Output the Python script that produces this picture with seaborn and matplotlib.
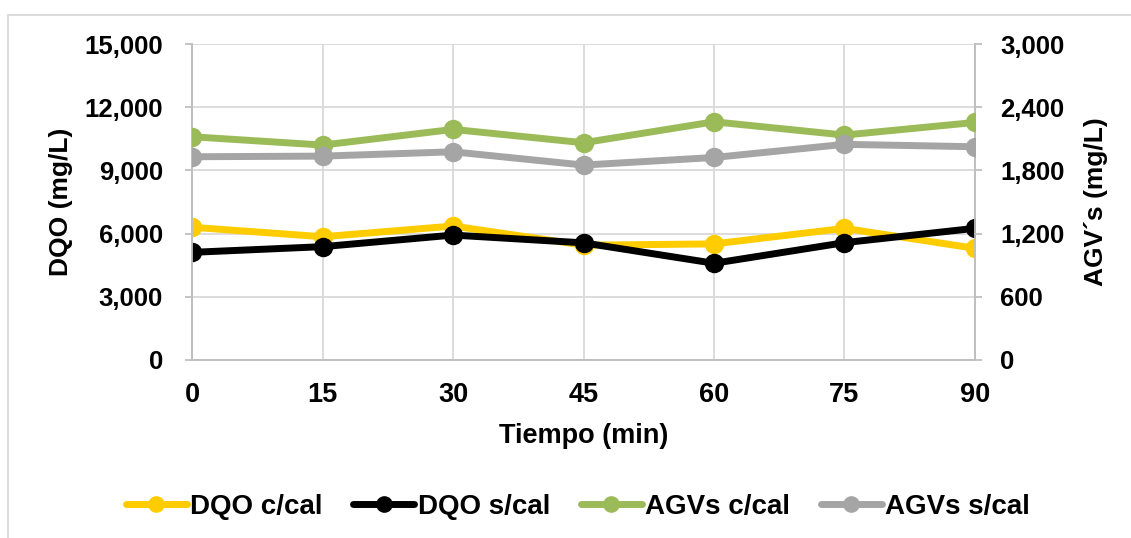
import matplotlib
matplotlib.use("Agg")
import matplotlib.pyplot as plt
from matplotlib.lines import Line2D
from matplotlib.patches import Rectangle
import matplotlib.ticker as mticker
import pandas as pd
import seaborn as sns

# Sampling times (min)
tiempo = [0, 15, 30, 45, 60, 75, 90]

# DQO series (mg/L), left axis
dqo_ccal = [6300, 5850, 6360, 5450, 5510, 6250, 5300]
dqo_scal = [5110, 5380, 5930, 5560, 4590, 5570, 6250]

# AGVs series (mg/L), right axis
agv_ccal = [2120, 2041, 2190, 2063, 2262, 2136, 2256]
agv_scal = [1930, 1936, 1977, 1851, 1923, 2048, 2025]

labels = ["DQO c/cal", "DQO s/cal", "AGVs c/cal", "AGVs s/cal"]
colors = ["#FFCC00", "#000000", "#9BBB59", "#A5A5A5"]

sns.set_theme(style="white")
plt.rcParams["font.family"] = ["Liberation Sans", "DejaVu Sans"]
plt.rcParams["font.weight"] = "bold"
plt.rcParams["text.color"] = "black"
plt.rcParams["axes.labelcolor"] = "black"
plt.rcParams["xtick.color"] = "black"
plt.rcParams["ytick.color"] = "black"

fig = plt.figure(figsize=(11.31, 5.38), dpi=100)
ax = fig.add_axes([0.170, 0.331, 0.692, 0.587])
ax2 = ax.twinx()

df_left = pd.DataFrame({"t": tiempo * 2,
                        "v": dqo_ccal + dqo_scal,
                        "s": [labels[0]] * 7 + [labels[1]] * 7})
df_right = pd.DataFrame({"t": tiempo * 2,
                         "v": agv_ccal + agv_scal,
                         "s": [labels[2]] * 7 + [labels[3]] * 7})

lw, ms = 5.0, 14
for lab, col in zip(labels[:2], colors[:2]):
    sns.lineplot(data=df_left[df_left.s == lab], x="t", y="v", ax=ax,
                 color=col, linewidth=lw, marker="o", markersize=ms,
                 markeredgewidth=0, legend=False, zorder=3)
for lab, col in zip(labels[2:], colors[2:]):
    sns.lineplot(data=df_right[df_right.s == lab], x="t", y="v", ax=ax2,
                 color=col, linewidth=lw, marker="o", markersize=ms,
                 markeredgewidth=0, legend=False, zorder=3)

grid_c = "#D9D9D9"
spine_c = "#BFBFBF"

ax.set_xlim(0, 90)
ax.set_ylim(0, 15000)
ax2.set_ylim(0, 3000)
ax.set_xticks(tiempo)
ax.set_yticks([0, 3000, 6000, 9000, 12000, 15000])
ax2.set_yticks([0, 600, 1200, 1800, 2400, 3000])
fmt = mticker.FuncFormatter(lambda v, p: f"{int(v):,}")
ax.yaxis.set_major_formatter(fmt)
ax2.yaxis.set_major_formatter(fmt)

ax.grid(True, axis="both", color=grid_c, linewidth=1.3)
ax.set_axisbelow(True)
ax2.grid(False)

for a in (ax, ax2):
    a.spines["top"].set_visible(False)
    for side in ("left", "right", "bottom"):
        a.spines[side].set_color(spine_c)
        a.spines[side].set_linewidth(1.3)
    a.tick_params(axis="both", which="major", length=5, width=1.3,
                  color=spine_c, direction="out", labelcolor="black")

ax.tick_params(axis="y", labelsize=18.5, pad=16)
ax2.tick_params(axis="y", labelsize=18.5, pad=13)
ax.tick_params(axis="x", labelsize=19.5, pad=11)
for t in ax.get_xticklabels() + ax.get_yticklabels() + ax2.get_yticklabels():
    t.set_fontweight("bold")

ax.set_xlabel("Tiempo (min)", fontsize=19.5, fontweight="bold",
              labelpad=11, color="black")
ax.set_ylabel("DQO (mg/L)", fontsize=19, fontweight="bold", labelpad=8,
              color="black")
ax2.set_ylabel("AGV´s (mg/L)", fontsize=19, fontweight="bold", labelpad=14,
               color="black", rotation=90)

handles = [Line2D([0], [0], color=c, linewidth=lw, marker="o",
                  markersize=12, markeredgewidth=0) for c in colors]
fig.legend(handles, labels, loc="center", bbox_to_anchor=(0.511, 0.058),
           ncol=4, frameon=False, handlelength=2.2, handletextpad=0.12,
           columnspacing=1.1,
           prop={"weight": "bold", "size": 20})

# chart area frame
fig.patches.append(Rectangle((8 / 1131, -0.02), 1.1, 0.992,
                             transform=fig.transFigure, fill=False,
                             edgecolor="#D9D9D9", linewidth=1.3))

fig.savefig("out.png", dpi=100)
